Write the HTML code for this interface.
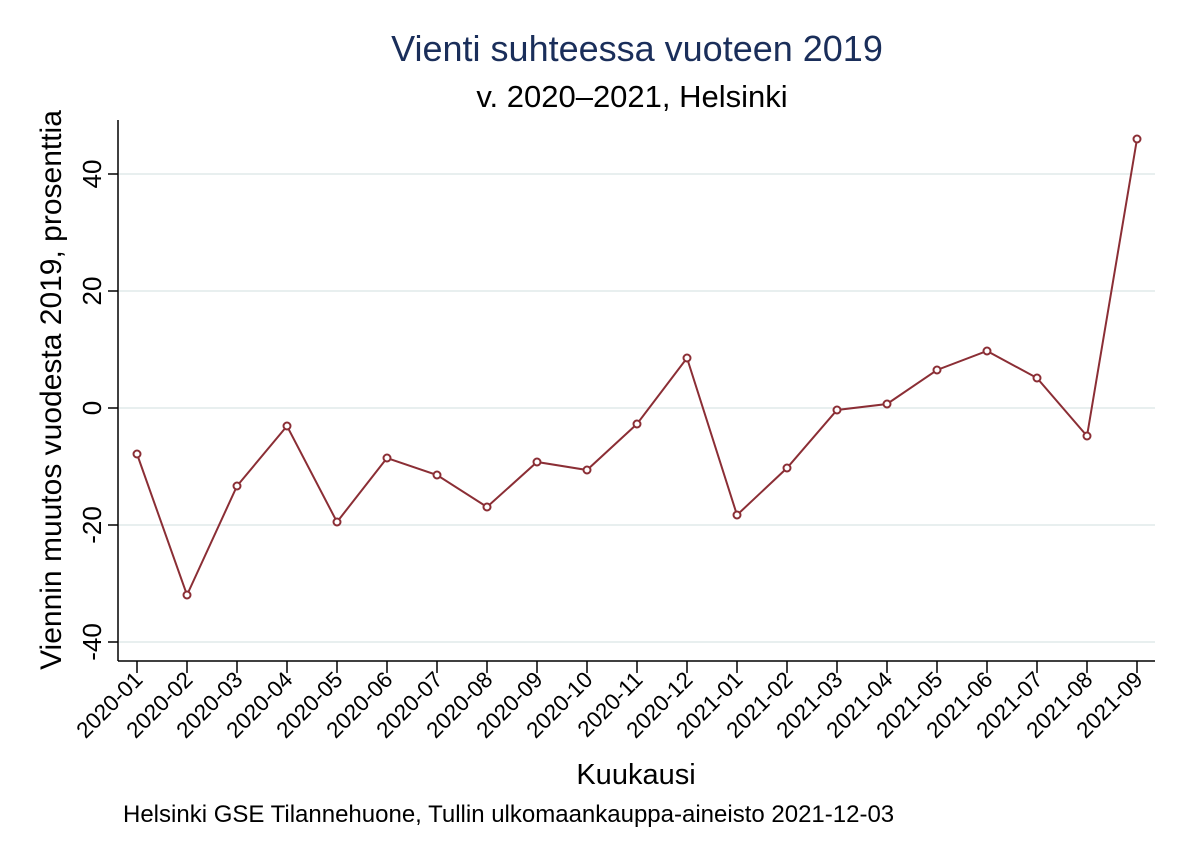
<!DOCTYPE html>
<html><head><meta charset="utf-8"><style>body{margin:0;background:#fff}</style></head><body>
<svg width="1186" height="862" viewBox="0 0 1186 862" xmlns="http://www.w3.org/2000/svg" font-family="Liberation Sans, Arial, sans-serif">
<rect width="1186" height="862" fill="#fff"/>
<text x="637" y="61" text-anchor="middle" font-size="36" fill="#1a2e5a">Vienti suhteessa vuoteen 2019</text>
<text x="632" y="107" text-anchor="middle" font-size="31" fill="#000">v. 2020–2021, Helsinki</text>
<g stroke="#e8efef" stroke-width="2">
<line x1="119" x2="1155" y1="174" y2="174"/><line x1="119" x2="1155" y1="291" y2="291"/><line x1="119" x2="1155" y1="408" y2="408"/><line x1="119" x2="1155" y1="525" y2="525"/><line x1="119" x2="1155" y1="642" y2="642"/>
</g>
<g stroke="#000" stroke-width="1.5">
<line x1="118" y1="120" x2="118" y2="661"/><line x1="118" y1="661" x2="1155" y2="661"/>
<line x1="108" x2="118" y1="174" y2="174"/><line x1="108" x2="118" y1="291" y2="291"/><line x1="108" x2="118" y1="408" y2="408"/><line x1="108" x2="118" y1="525" y2="525"/><line x1="108" x2="118" y1="642" y2="642"/>
</g>
<g font-size="26" text-anchor="middle">
<text transform="translate(101,174) rotate(-90)">40</text>
<text transform="translate(101,291) rotate(-90)">20</text>
<text transform="translate(101,408) rotate(-90)">0</text>
<text transform="translate(101,525) rotate(-90)">-20</text>
<text transform="translate(101,642) rotate(-90)">-40</text>
</g>
<text transform="translate(61,390) rotate(-90)" text-anchor="middle" font-size="30">Viennin muutos vuodesta 2019, prosenttia</text>
<g stroke="#000" stroke-width="1.5">
<line x1="137" x2="137" y1="661" y2="673"/><line x1="187" x2="187" y1="661" y2="673"/><line x1="237" x2="237" y1="661" y2="673"/><line x1="287" x2="287" y1="661" y2="673"/><line x1="337" x2="337" y1="661" y2="673"/><line x1="387" x2="387" y1="661" y2="673"/><line x1="437" x2="437" y1="661" y2="673"/><line x1="487" x2="487" y1="661" y2="673"/><line x1="537" x2="537" y1="661" y2="673"/><line x1="587" x2="587" y1="661" y2="673"/><line x1="637" x2="637" y1="661" y2="673"/><line x1="687" x2="687" y1="661" y2="673"/><line x1="737" x2="737" y1="661" y2="673"/><line x1="787" x2="787" y1="661" y2="673"/><line x1="837" x2="837" y1="661" y2="673"/><line x1="887" x2="887" y1="661" y2="673"/><line x1="937" x2="937" y1="661" y2="673"/><line x1="987" x2="987" y1="661" y2="673"/><line x1="1037" x2="1037" y1="661" y2="673"/><line x1="1087" x2="1087" y1="661" y2="673"/><line x1="1137" x2="1137" y1="661" y2="673"/>
</g>
<g font-size="22.5" text-anchor="end">
<text transform="translate(144,681) rotate(-45)">2020-01</text>
<text transform="translate(194,681) rotate(-45)">2020-02</text>
<text transform="translate(244,681) rotate(-45)">2020-03</text>
<text transform="translate(294,681) rotate(-45)">2020-04</text>
<text transform="translate(344,681) rotate(-45)">2020-05</text>
<text transform="translate(394,681) rotate(-45)">2020-06</text>
<text transform="translate(444,681) rotate(-45)">2020-07</text>
<text transform="translate(494,681) rotate(-45)">2020-08</text>
<text transform="translate(544,681) rotate(-45)">2020-09</text>
<text transform="translate(594,681) rotate(-45)">2020-10</text>
<text transform="translate(644,681) rotate(-45)">2020-11</text>
<text transform="translate(694,681) rotate(-45)">2020-12</text>
<text transform="translate(744,681) rotate(-45)">2021-01</text>
<text transform="translate(794,681) rotate(-45)">2021-02</text>
<text transform="translate(844,681) rotate(-45)">2021-03</text>
<text transform="translate(894,681) rotate(-45)">2021-04</text>
<text transform="translate(944,681) rotate(-45)">2021-05</text>
<text transform="translate(994,681) rotate(-45)">2021-06</text>
<text transform="translate(1044,681) rotate(-45)">2021-07</text>
<text transform="translate(1094,681) rotate(-45)">2021-08</text>
<text transform="translate(1144,681) rotate(-45)">2021-09</text>
</g>
<polyline fill="none" stroke="#8b2e35" stroke-width="2" points="137,454 187,595 237,486 287,426 337,522 387,458 437,475 487,507 537,462 587,470 637,424 687,358 737,515 787,468 837,410 887,404 937,370 987,351 1037,378 1087,436 1137,139"/>
<g fill="#fff" stroke="#8b2e35" stroke-width="2">
<circle cx="137" cy="454" r="3.5"/><circle cx="187" cy="595" r="3.5"/><circle cx="237" cy="486" r="3.5"/><circle cx="287" cy="426" r="3.5"/><circle cx="337" cy="522" r="3.5"/><circle cx="387" cy="458" r="3.5"/><circle cx="437" cy="475" r="3.5"/><circle cx="487" cy="507" r="3.5"/><circle cx="537" cy="462" r="3.5"/><circle cx="587" cy="470" r="3.5"/><circle cx="637" cy="424" r="3.5"/><circle cx="687" cy="358" r="3.5"/><circle cx="737" cy="515" r="3.5"/><circle cx="787" cy="468" r="3.5"/><circle cx="837" cy="410" r="3.5"/><circle cx="887" cy="404" r="3.5"/><circle cx="937" cy="370" r="3.5"/><circle cx="987" cy="351" r="3.5"/><circle cx="1037" cy="378" r="3.5"/><circle cx="1087" cy="436" r="3.5"/><circle cx="1137" cy="139" r="3.5"/>
</g>
<text x="636" y="784" text-anchor="middle" font-size="29">Kuukausi</text>
<text x="123" y="822" font-size="24">Helsinki GSE Tilannehuone, Tullin ulkomaankauppa-aineisto 2021-12-03</text>
</svg>
</body></html>
